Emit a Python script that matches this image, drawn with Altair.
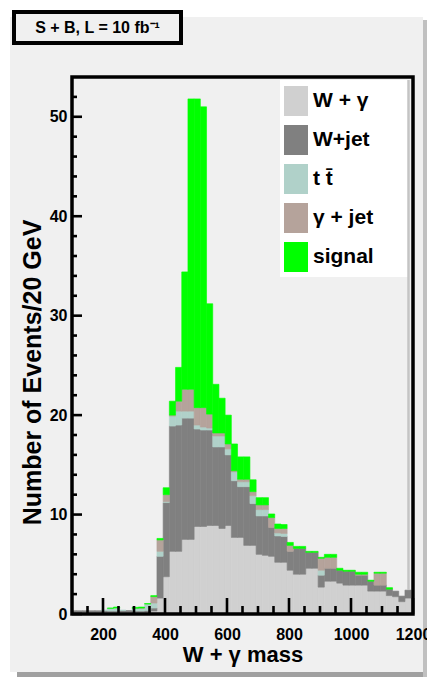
import altair as alt
import pandas as pd

FONT = "Liberation Sans"

# ---- data (events per 20 GeV bin) ----
bin_start = 94
bin_width = 20

w_gamma = [0.2, 0.2, 0.2, 0.2, 0.2,
           0.2, 0.2, 0.2, 0.2, 0.2,
           0.2, 0.2, 0.2, 0.3, 1.6,
           3.75, 6.3, 6.3, 7.5, 7.5,
           8.8, 8.8, 8.9, 8.9, 8.6,
           8.9, 7.7, 7.7, 6.9, 6.9,
           6.0, 5.9, 5.8, 5.2, 5.2,
           4.4, 4.0, 4.0, 4.6, 4.6,
           2.7, 3.3, 3.3, 3.1, 2.9,
           2.9, 2.9, 2.9, 2.3, 2.3,
           2.3, 1.85, 1.74, 1.24, 1.6]
w_jet = [0.13, 0.13, 0.13, 0.13, 0.13,
         0.13, 0.1, 0.1, 0.15, 0.15,
         0.1, 0.1, 0.15, 0.3, 4.2,
         7.45, 12.6, 12.7, 12.2, 12.2,
         9.8, 9.7, 9.6, 7.9, 8.2,
         7.1, 5.7, 5.1, 5.9, 4.2,
         3.86, 3.96, 2.9, 2.65, 2.6,
         1.9, 2.6, 2.6, 1.6, 1.6,
         1.2, 1.3, 1.3, 1.3, 1.4,
         1.4, 1.0, 1.0, 1.0, 0.6,
         0.6, 0.65, 0.56, 0.56, 0.8]
ttbar = [0, 0, 0, 0, 0,
         0.07, 0.27, 0.3, 0.05, 0,
         0.27, 0.27, 0.65, 0.5, 0.5,
         0.1, 1.0, 1.4, 0.7, 0.7,
         0.4, 0.3, 0.2, 1.1, 1.1,
         0.6, 0.9, 0.5, 0.5, 0.8,
         0.64, 0.64, 0, 0.3, 0.3,
         0, 0, 0, 0, 0,
         0.5, 0, 0, 0, 0,
         0, 0, 0, 0, 0,
         0, 0, 0, 0, 0]
gamma_jet = [0, 0, 0, 0, 0,
             0, 0, 0, 0, 0,
             0, 0.03, 0, 0.65, 1.15,
             0.7, 0.1, 1.0, 2.2, 2.2,
             1.75, 1.95, 1.4, 0.3, 0.3,
             0.5, 0.1, 0.25, 0.25, 0.4,
             0.47, 0.47, 1.0, 0.45, 0.5,
             0.6, 0, 0, 0, 0,
             1.2, 1.1, 1.1, 0, 0,
             0, 0.1, 0.1, 0, 1.2,
             1.2, 0, 0, 0, 0]
signal = [0, 0, 0, 0, 0,
          0, 0.03, 0.1, 0, 0,
          0.1, 0.1, 0.05, 0.1, 0.15,
          0.7, 1.4, 3.4, 11.8, 29.2,
          31.05, 30.25, 11.1, 4.9, 3.5,
          2.9, 2.7, 2.25, 2.25, 1.2,
          0.73, 0.73, 0.36, 0.45, 0.4,
          0.3, 0.2, 0.2, 0.1, 0.1,
          0.1, 0.3, 0.3, 0.2, 0.1,
          0.1, 0.2, 0.2, 0.1, 0.1,
          0.1, 0.15, 0, 0, 0]

series_names = ["W + γ", "W+jet", "t t\u0304", "γ + jet", "signal"]
series_colors = ["#d0d0d0", "#808080", "#b0d1c9", "#b5a39b", "#00ff00"]

x_labels = [200, 400, 600, 800, 1000, 1200]
x_minor = [150, 250, 300, 350, 450, 500, 550, 650, 700, 750,
           850, 900, 950, 1050, 1100, 1150]
y_labels = [0, 10, 20, 30, 40, 50]
y_minor = [2, 4, 6, 8, 12, 14, 16, 18, 22, 24, 26, 28, 32, 34, 36, 38,
           42, 44, 46, 48, 52]

# ---- table ----
rows = []
for order, (name, vals) in enumerate(zip(series_names, [w_gamma, w_jet, ttbar, gamma_jet, signal])):
    for i, v in enumerate(vals):
        lo = bin_start + bin_width * i
        rows.append({"lo": lo, "hi": lo + bin_width, "series": name, "order": order, "value": v})
df = pd.DataFrame(rows)

W, H = 341, 537

x_scale = alt.Scale(domain=[100, 1200], nice=False, zero=False)
y_scale = alt.Scale(domain=[0, 54], nice=False, zero=False)
color_scale = alt.Scale(domain=series_names, range=series_colors)

x_axis = alt.Axis(values=x_labels, format="d", grid=False, domain=False, ticks=False, tickSize=0,
                  labelPadding=12, labelFont=FONT, labelFontSize=16, labelFontWeight="bold",
                  labelColor="black", labelFlush=False, labelOverlap=False,
                  title="W + γ mass", titleFont=FONT, titleFontSize=22, titleFontWeight="bold",
                  titleColor="black", titleX=170.5, titleY=47, titleBaseline="alphabetic",
                  titleAlign="center", zindex=1)
y_axis = alt.Axis(values=y_labels, grid=False, domain=False, ticks=False, tickSize=0,
                  labelPadding=5, labelFont=FONT, labelFontSize=16, labelFontWeight="bold",
                  labelColor="black", labelOverlap=False,
                  title="Number of Events/20 GeV", titleFont=FONT, titleFontSize=25,
                  titleFontWeight="bold", titleColor="black", titleX=-27, titleY=295,
                  titleAlign="center", zindex=1)

legend = alt.Legend(orient="none", legendX=204, legendY=4, padding=5, title=None,
                    symbolType="M-0.8,-1H0.8V1H-0.8Z", symbolSize=900, symbolStrokeWidth=0,
                    symbolOpacity=1, labelFont=FONT, labelFontSize=21, labelFontWeight="bold",
                    labelColor="black", labelOffset=2, rowPadding=9, labelLimit=300)

one = pd.DataFrame({"d": [0]})


def box(x, x2, y, y2, **kw):
    return alt.Chart(one).mark_rect(**kw).encode(
        x=alt.value(x), x2=alt.value(x2), y=alt.value(y), y2=alt.value(y2))


panel = box(-62, 351, -60, 595, fill="#f0f0f0")
shadow_b = box(-55, 355, 595, 600, fill="#a0a0a0")
shadow_r = box(351, 355, -57, 600, fill="#c0c0c0")
title_box = box(-58, 109, -65, -34, fill="#f0f0f0", stroke="black", strokeWidth=4)
title_text = alt.Chart(one).mark_text(
    text="S + B, L = 10 fb\u207b\u00b9", font=FONT, fontSize=16, fontWeight="bold",
    color="black", align="center", baseline="middle").encode(x=alt.value(25.5), y=alt.value(-49.5))
legend_bg = box(208, 337, 3, 200, fill="white")

hist = alt.Chart(df).transform_filter("datum.value > 0").transform_stack(
    stack="value", groupby=["lo"], sort=[alt.SortField(field="order", order="ascending")],
    as_=["y0", "y1"]
).mark_rect(clip=True, strokeWidth=0.6).encode(
    x=alt.X("lo:Q", scale=x_scale, axis=x_axis),
    x2="hi:Q",
    y=alt.Y("y0:Q", scale=y_scale, axis=y_axis),
    y2="y1:Q",
    color=alt.Color("series:N", scale=color_scale, legend=legend),
    stroke=alt.Stroke("series:N", scale=color_scale, legend=None),
)

right_line = alt.Chart(one).mark_rule(color="#c4c4c4", strokeWidth=2.5).encode(
    x=alt.value(336.5), y=alt.value(3), y2=alt.value(513))

xt_major = alt.Chart(pd.DataFrame({"lo": x_labels})).mark_rule(color="black", strokeWidth=2.6).encode(
    x=alt.X("lo:Q", scale=x_scale, axis=x_axis), y=alt.value(H), y2=alt.value(H - 16))
xt_minor = alt.Chart(pd.DataFrame({"lo": x_minor})).mark_rule(color="black", strokeWidth=2.6).encode(
    x=alt.X("lo:Q", scale=x_scale, axis=x_axis), y=alt.value(H), y2=alt.value(H - 8))
yt_major = alt.Chart(pd.DataFrame({"y0": y_labels})).mark_rule(color="black", strokeWidth=2.6).encode(
    y=alt.Y("y0:Q", scale=y_scale, axis=y_axis), x=alt.value(0), x2=alt.value(10))
yt_minor = alt.Chart(pd.DataFrame({"y0": y_minor})).mark_rule(color="black", strokeWidth=2.6).encode(
    y=alt.Y("y0:Q", scale=y_scale, axis=y_axis), x=alt.value(0), x2=alt.value(5))

frame = box(0, W, 0, H, fillOpacity=0, stroke="black", strokeWidth=3.5)

chart = alt.layer(
    panel, shadow_b, shadow_r, title_box, title_text, legend_bg,
    hist, right_line, xt_major, xt_minor, yt_major, yt_minor, frame
).properties(
    width=W, height=H,
    padding={"left": 72, "top": 77, "right": 14, "bottom": 63},
    autosize=alt.AutoSizeParams(type="none"),
    background="white",
).configure_view(strokeWidth=0)

chart.save("out.html", embed_options={"renderer": "svg", "actions": False})
